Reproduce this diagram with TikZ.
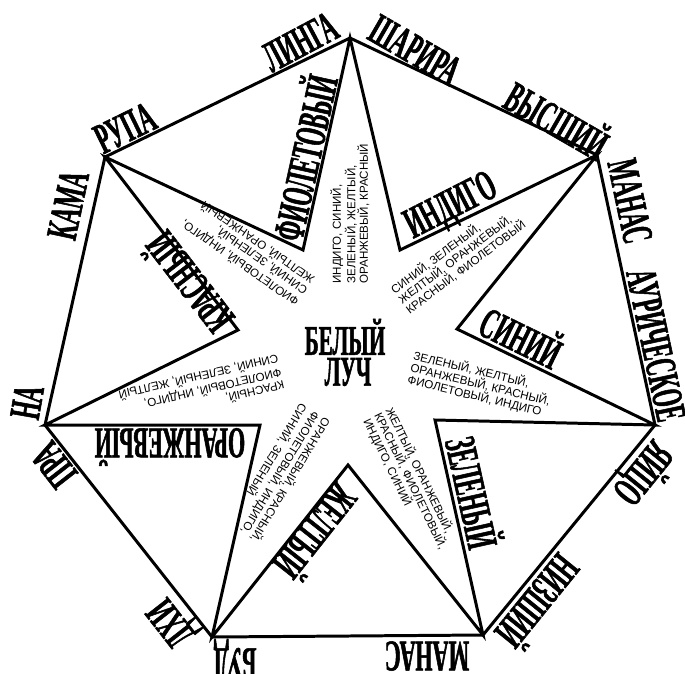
\documentclass[tikz,border=0pt]{standalone}
\usepackage{fontspec}
\setmainfont{Liberation Serif}
\setsansfont{Liberation Sans}
\newfontfamily\posterfont[FakeStretch=0.5, BoldFeatures={FakeBold=1.2}]{Liberation Serif}
\newfontfamily\listfont{Liberation Sans}

\begin{document}
\begin{tikzpicture}[x=0.02cm, y=-0.02cm,
    edge/.style={line width=1.7pt, line join=miter},
    outer/.style={font=\posterfont\bfseries\fontsize{25}{25}\selectfont, inner sep=0pt},
    ray/.style={font=\posterfont\bfseries\fontsize{25}{25}\selectfont, inner sep=0pt},
    list/.style={font=\listfont\fontsize{6.6}{7.1}\selectfont, align=left, inner sep=0pt, anchor=north west}]
    \useasboundingbox (0,0) rectangle (685,673);

    % corners of the heptagon
    \coordinate (kamarupa) at (105,157);
    \coordinate (linga) at (350,38);
    \coordinate (vysshij) at (597,155);
    \coordinate (auric) at (655,425);
    \coordinate (nizshij) at (483,635);
    \coordinate (buddhi) at (212,637);
    \coordinate (prana) at (45,425);
    % inner corners of the star
    \coordinate (violet) at (303,250);
    \coordinate (indigo) at (400,250);
    \coordinate (blue) at (457,329);
    \coordinate (green) at (435,420);
    \coordinate (yellow) at (348,465);
    \coordinate (orange) at (260,425);
    \coordinate (red) at (238,330);

    \draw[edge] (kamarupa) -- (linga) -- (vysshij) -- (auric) -- (nizshij) -- (buddhi) -- (prana) -- cycle;
    \draw[edge] (kamarupa) -- (violet) -- (linga) -- (indigo) -- (vysshij) -- (blue) -- (auric)
      -- (green) -- (nizshij) -- (yellow) -- (buddhi) -- (orange) -- (prana) -- (red) -- cycle;

    % principles round the outside
    \node[outer, rotate=78] (kama) at (68,205) {КАМА};
    \node[outer, rotate=26] (rupa) at (125,128) {РУПА};
    \node[outer, rotate=28] (lingaw) at (300,42) {ЛИНГА};
    \node[outer, rotate=-30] (sharira) at (415,50) {ШАРИРА};
    \node[outer, rotate=-30] (vysshijw) at (558,118) {ВЫСШИЙ};
    \node[outer, rotate=-78] (manas1) at (630,201) {МАНАС};
    \node[outer, rotate=-78] (auricw) at (656,345) {АУРИЧЕСКОЕ};
    \node[outer, rotate=-129] (egg) at (643,473) {ЯЙЦО};
    \node[outer, rotate=-129] (nizshijw) at (540,603) {НИЗШИЙ};
    \node[outer, rotate=180] (manas2) at (427,656) {МАНАС};
    \node[outer, rotate=180] (bud) at (235,658) {БУД};
    \node[outer, rotate=128] (dhi) at (174,621) {ДХИ};
    \node[outer, rotate=128] (pra) at (54,465) {ПРА};
    \node[outer, rotate=80] (na) at (27,402) {НА};

    % colours in the triangles
    \node[ray, rotate=77.5] (violetw) at (302,157) {ФИОЛЕТОВЫЙ};
    \node[ray, rotate=27] (indigow) at (452,208) {ИНДИГО};
    \node[ray, rotate=-26] (bluew) at (522,335) {СИНИЙ};
    \node[ray, rotate=-77.5] (greenw) at (475,492) {ЗЕЛЕНЫЙ};
    \node[ray, rotate=-128.3] (yelloww) at (318,533) {ЖЕЛТЫЙ};
    \node[ray, rotate=180] (orangew) at (170,447) {ОРАНЖЕВЫЙ};
    \node[ray, rotate=127.6] (redw) at (187,284) {КРАСНЫЙ};

    % centre
    \node[ray, font=\posterfont\bfseries\fontsize{24}{24}\selectfont] (white) at (345,337) {БЕЛЫЙ};
    \node[ray, font=\posterfont\bfseries\fontsize{24}{24}\selectfont] (ray) at (348,372) {ЛУЧ};

    % the other six colours in each point
    \node[list, rotate=90] (listviolet) at (330,284) {ИНДИГО, СИНИЙ,\\ЗЕЛЕНЫЙ, ЖЕЛТЫЙ,\\ОРАНЖЕВЫЙ, КРАСНЫЙ};
    \node[list, rotate=37] (listindigo) at (388,286) {СИНИЙ, ЗЕЛЕНЫЙ,\\ЖЕЛТЫЙ, ОРАНЖЕВЫЙ,\\КРАСНЫЙ, ФИОЛЕТОВЫЙ};
    \node[list, rotate=-13.5] (listblue) at (415,349) {ЗЕЛЕНЫЙ, ЖЕЛТЫЙ,\\ОРАНЖЕВЫЙ, КРАСНЫЙ,\\ФИОЛЕТОВЫЙ, ИНДИГО};
    \node[list, rotate=-64] (listgreen) at (395,405) {ЖЕЛТЫЙ, ОРАНЖЕВЫЙ,\\КРАСНЫЙ, ФИОЛЕТОВЫЙ,\\ИНДИГО, СИНИЙ};
    \node[list, rotate=239] (listyellow) at (333,422) {ОРАНЖЕВЫЙ, КРАСНЫЙ,\\ФИОЛЕТОВЫЙ, ИНДИГО,\\СИНИЙ, ЗЕЛЕНЫЙ};
    \node[list, rotate=193] (listorange) at (286,391) {КРАСНЫЙ,\\ФИОЛЕТОВЫЙ, ИНДИГО,\\СИНИЙ, ЗЕЛЕНЫЙ, ЖЕЛТЫЙ};
    \node[list, rotate=145] (listred) at (294,309) {ФИОЛЕТОВЫЙ, ИНДИГО,\\СИНИЙ, ЗЕЛЕНЫЙ,\\ЖЕЛТЫЙ, ОРАНЖЕВЫЙ};
\end{tikzpicture}
\end{document}
